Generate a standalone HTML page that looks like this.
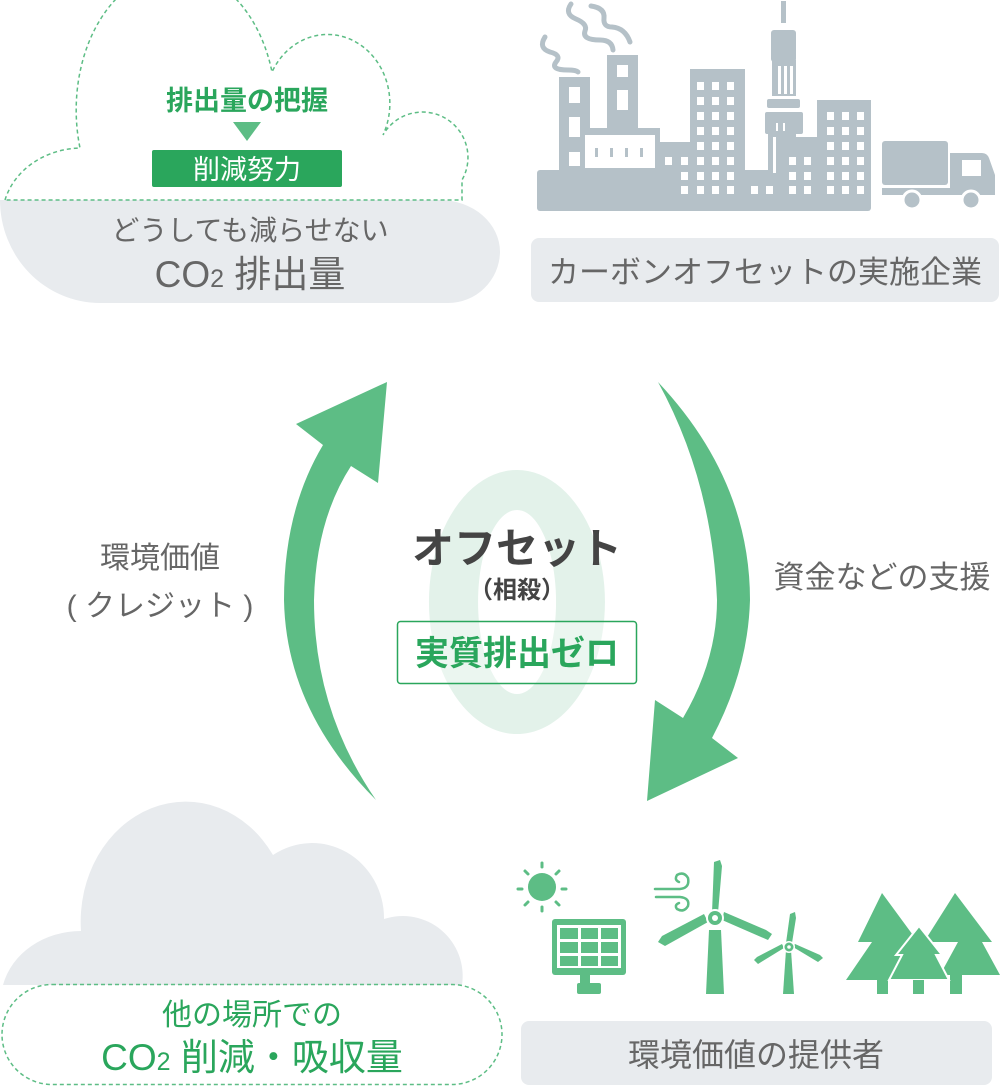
<!DOCTYPE html>
<html><head><meta charset="utf-8">
<style>
html,body{margin:0;padding:0;background:#fff;}
body{width:1000px;height:1087px;overflow:hidden;}
svg text{font-family:"Liberation Sans","Noto Sans CJK JP",sans-serif;}
</style></head>
<body>
<svg width="1000" height="1087" viewBox="0 0 1000 1087" xmlns="http://www.w3.org/2000/svg">
<!-- Top-left cloud -->
<path d="M0,200 H440 A60,52 0 0 1 500,252 A52,52 0 0 1 448,303 H100 A100,103 0 0 1 0,200 Z" fill="#e8ebee"/>
<path d="M5,200 A80,70 0 0 1 80,148 A97,135 0 0 1 272,72 A56,62 0 0 1 383,135 A40,40 0 0 1 462,180 L462,200 Z" fill="none" stroke="#5dbd85" stroke-width="1.5" stroke-dasharray="4,3"/>
<text x="247" y="110" text-anchor="middle" font-size="27" font-weight="bold" fill="#2aa65c">排出量の把握</text>
<polygon points="233,122 261,122 247,141" fill="#5dbd85"/>
<rect x="152" y="150" width="190" height="37" rx="2" fill="#2aa65c"/>
<text x="247" y="179" text-anchor="middle" font-size="27" fill="#fff">削減努力</text>
<text x="250" y="240" text-anchor="middle" font-size="28" fill="#666">どうしても減らせない</text>
<text x="250" y="287" text-anchor="middle" font-size="37" fill="#666">CO<tspan font-size="25">2</tspan> 排出量</text>

<!-- City -->
<g fill="#b5c1c8">
<rect x="537" y="170" width="334" height="41" rx="3"/>
<rect x="559" y="77" width="31" height="95"/>
<rect x="607" y="55" width="31" height="90"/>
<rect x="580" y="128" width="80" height="44"/>
<rect x="660" y="142" width="32" height="30"/>
<rect x="690" y="69" width="55" height="110"/>
<rect x="781" y="1" width="5" height="22"/>
<rect x="771" y="30" width="25" height="32" rx="3"/>
<rect x="772" y="60" width="24" height="36"/>
<rect x="767" y="99" width="33" height="9" rx="2"/>
<rect x="765" y="112" width="38" height="22" rx="2"/>
<rect x="768" y="130" width="28" height="45"/>
<rect x="781" y="137" width="40" height="40"/>
<rect x="817" y="100" width="54" height="100"/>
<rect x="882" y="141" width="66" height="44" rx="3"/>
<path d="M950,153 H982 Q987,153 989,158 L995,175 V195 H882 V188 H950 Z"/>
</g>
<rect x="962" y="160" width="19" height="16" fill="#fff"/>
<circle cx="912" cy="200" r="9" fill="#b5c1c8" stroke="#fff" stroke-width="3"/>
<circle cx="971" cy="200" r="9" fill="#b5c1c8" stroke="#fff" stroke-width="3"/>
<g fill="none" stroke="#b5c1c8" stroke-width="5" stroke-linecap="round">
<path d="M545,37 Q538,48 550,52 Q562,55 556,62 Q550,70 568,70 Q576,70 578,72"/>
<path d="M571,4 Q564,14 576,19 Q588,24 585,31 Q582,40 600,40 Q612,40 613,50"/>
<path d="M591,6 Q605,8 604,18 Q603,27 612,27 Q625,28 630,42"/>
</g>
<g fill="#fff">
<rect x="569" y="87" width="11" height="16"/><rect x="569" y="117" width="11" height="20"/><rect x="569" y="152" width="11" height="14"/>
<rect x="617" y="65" width="11" height="12"/><rect x="617" y="90" width="11" height="20"/>
<rect x="585" y="135" width="70" height="33"/>
<rect x="778" y="66" width="3" height="28"/><rect x="784" y="66" width="3" height="28"/><rect x="790" y="66" width="3" height="28"/>
<rect x="773" y="137" width="3" height="36"/><rect x="776" y="123" width="2" height="8"/><rect x="783" y="123" width="2" height="8"/>
</g>
<g fill="#b5c1c8"><rect x="595" y="148" width="3" height="9"/><rect x="610" y="148" width="3" height="9"/><rect x="625" y="148" width="3" height="9"/><rect x="640" y="148" width="3" height="9"/></g>
<g fill="#fff">
<rect x="697" y="82" width="7" height="8"/><rect x="712" y="82" width="7" height="8"/><rect x="727" y="82" width="7" height="8"/>
<rect x="697" y="97" width="7" height="8"/><rect x="712" y="97" width="7" height="8"/><rect x="727" y="97" width="7" height="8"/>
<rect x="697" y="112" width="7" height="8"/><rect x="712" y="112" width="7" height="8"/><rect x="727" y="112" width="7" height="8"/>
<rect x="697" y="127" width="7" height="8"/><rect x="712" y="127" width="7" height="8"/><rect x="727" y="127" width="7" height="8"/>
<rect x="697" y="142" width="7" height="8"/><rect x="712" y="142" width="7" height="8"/><rect x="727" y="142" width="7" height="8"/>
<rect x="665" y="157" width="7" height="8"/><rect x="681" y="157" width="7" height="8"/><rect x="697" y="157" width="7" height="8"/><rect x="712" y="157" width="7" height="8"/><rect x="727" y="157" width="7" height="8"/>
<rect x="681" y="172" width="7" height="8"/><rect x="697" y="172" width="7" height="8"/><rect x="712" y="172" width="7" height="8"/><rect x="727" y="172" width="7" height="8"/>
<rect x="681" y="186" width="7" height="8"/><rect x="697" y="186" width="7" height="8"/><rect x="712" y="186" width="7" height="8"/><rect x="727" y="186" width="7" height="8"/>
<rect x="751" y="186" width="7" height="8"/><rect x="766" y="186" width="7" height="8"/>
<rect x="789" y="157" width="7" height="8"/><rect x="804" y="157" width="7" height="8"/>
<rect x="789" y="172" width="7" height="8"/><rect x="804" y="172" width="7" height="8"/>
<rect x="789" y="186" width="7" height="8"/><rect x="804" y="186" width="7" height="8"/>
<rect x="827" y="112" width="7" height="8"/><rect x="842" y="112" width="7" height="8"/><rect x="857" y="112" width="7" height="8"/>
<rect x="827" y="127" width="7" height="8"/><rect x="842" y="127" width="7" height="8"/><rect x="857" y="127" width="7" height="8"/>
<rect x="827" y="142" width="7" height="8"/><rect x="842" y="142" width="7" height="8"/><rect x="857" y="142" width="7" height="8"/>
<rect x="827" y="157" width="7" height="8"/><rect x="842" y="157" width="7" height="8"/><rect x="857" y="157" width="7" height="8"/>
<rect x="827" y="172" width="7" height="8"/><rect x="842" y="172" width="7" height="8"/><rect x="857" y="172" width="7" height="8"/>
<rect x="827" y="186" width="7" height="8"/><rect x="842" y="186" width="7" height="8"/><rect x="857" y="186" width="7" height="8"/>
</g>
<rect x="531" y="238" width="468" height="64" rx="8" fill="#e8ebee"/>
<text x="765" y="283" text-anchor="middle" font-size="31" fill="#666">カーボンオフセットの実施企業</text>

<!-- Center zero -->
<path fill-rule="evenodd" fill="#e3f2ea" d="M517,470 A88,132 0 1 1 516.9,470 Z M517,510 A39,92 0 1 0 517.1,510 Z"/>
<text x="517" y="563" text-anchor="middle" font-size="42" font-weight="bold" fill="#444">オフセット</text>
<text x="517" y="598" text-anchor="middle" font-size="24" font-weight="bold" fill="#444">（相殺）</text>
<rect x="397.5" y="621.5" width="239" height="62" rx="3" fill="#fff" fill-opacity="0.3" stroke="#2aa65c" stroke-width="1.5"/>
<text x="517" y="665" text-anchor="middle" font-size="34" font-weight="bold" fill="#2aa65c">実質排出ゼロ</text>

<!-- Arrows -->
<path fill="#5dbd85" d="M387,382 L296,424 L323,445 Q284,510 284,600 Q286,710 376,800 Q314,710 314,600 Q316,520 351,466 L378,483 Z"/>
<path fill="#5dbd85" d="M658,382 Q750,480 750,600 Q748,670 712,738 L738,758 L647,801 L655,700 L683,718 Q717,660 717,600 Q712,480 658,382 Z"/>
<text x="160" y="568" text-anchor="middle" font-size="30" fill="#666">環境価値</text>
<text x="160" y="616" text-anchor="middle" font-size="30" fill="#666">( クレジット )</text>
<text x="882" y="588" text-anchor="middle" font-size="31" fill="#666">資金などの支援</text>

<!-- Bottom-left cloud -->
<path d="M3,985 A80,70 0 0 1 81,931 A105,120 0 0 1 273,855 A72,75 0 0 1 384,919 A60,60 0 0 1 462,985 Z" fill="#e8ebee"/>
<path d="M52,984.5 H452 A50,50 0 0 1 502,1034 A50,50 0 0 1 452,1084.5 H52 A50,50 0 0 1 2,1034 A50,50 0 0 1 52,984.5 Z" fill="none" stroke="#5dbd85" stroke-width="1.5" stroke-dasharray="4,3"/>
<text x="252" y="1025" text-anchor="middle" font-size="30" fill="#2aa65c">他の場所での</text>
<text x="252" y="1070" text-anchor="middle" font-size="37" fill="#2aa65c">CO<tspan font-size="25">2</tspan> 削減・吸収量</text>

<!-- Eco icons -->
<g fill="#5dbd85">
<circle cx="542" cy="887" r="14"/>
<g stroke="#5dbd85" stroke-width="3" stroke-linecap="round">
<line x1="542" y1="863" x2="542" y2="867"/><line x1="542" y1="907" x2="542" y2="911"/>
<line x1="518" y1="889" x2="522" y2="889"/><line x1="562" y1="889" x2="566" y2="889"/>
<line x1="525" y1="871" x2="528" y2="874"/><line x1="556" y1="874" x2="559" y2="871"/>
<line x1="525" y1="905" x2="528" y2="902"/><line x1="556" y1="902" x2="559" y2="905"/>
</g>
<rect x="552" y="919" width="74" height="56" rx="3"/>
<rect x="580" y="975" width="10" height="8"/>
<rect x="577" y="983" width="24" height="11" rx="2"/>
<polygon points="709,930 721,930 724,994 706,994"/>
<polygon points="786,950 791,950 794,994 783,994"/>
<polygon points="712,913 714,862 720,860 722,866 718,913"/>
<polygon points="708,922 665,946 658,942 662,936 704,914"/>
<polygon points="722,920 768,940 772,934 766,930 724,912"/>
<polygon points="786,943 790,914 795,912 796,918 792,943"/>
<polygon points="784,948 758,964 754,960 757,957 782,944"/>
<polygon points="793,947 818,962 823,958 820,955 795,944"/>
<circle cx="715" cy="918" r="9" fill="#fff"/><circle cx="715" cy="918" r="7"/><circle cx="715" cy="918" r="3" fill="#fff"/>
<circle cx="789" cy="947" r="6" fill="#fff"/><circle cx="789" cy="947" r="4.5"/><circle cx="789" cy="947" r="1.8" fill="#fff"/>
<polygon points="882,893 918,942 908,942 935,980 846,980 872,942 858,942"/>
<rect x="877" y="978" width="11" height="16"/>
<polygon points="955,893 992,942 982,942 1000,975 940,975 958,942 924,942"/>
<rect x="950" y="975" width="12" height="19"/>
</g>
<polygon points="919,926 942,955 936,955 949,980 889,980 902,955 896,955" fill="#5dbd85" stroke="#fff" stroke-width="2"/>
<rect x="913" y="980" width="11" height="14" fill="#5dbd85"/>
<rect x="557" y="925" width="64" height="43" fill="#fff"/>
<g fill="#5dbd85">
<rect x="560" y="928" width="18" height="11"/><rect x="581" y="928" width="17" height="11"/><rect x="601" y="928" width="17" height="11"/>
<rect x="560" y="942" width="18" height="11"/><rect x="581" y="942" width="17" height="11"/><rect x="601" y="942" width="17" height="11"/>
<rect x="560" y="956" width="18" height="10"/><rect x="581" y="956" width="17" height="10"/><rect x="601" y="956" width="17" height="10"/>
</g>
<g fill="none" stroke="#5dbd85" stroke-width="2.5" stroke-linecap="round">
<path d="M655,889 H680 Q690,888 688,878 Q684,871 677,875 Q674,880 679,882"/>
<path d="M656,897 H680 Q690,898 688,906 Q684,913 677,909 Q674,905 679,903"/>
</g>
<rect x="521" y="1021" width="471" height="64" rx="8" fill="#e8ebee"/>
<text x="756" y="1066" text-anchor="middle" font-size="32" fill="#666">環境価値の提供者</text>
</svg>
</body></html>
